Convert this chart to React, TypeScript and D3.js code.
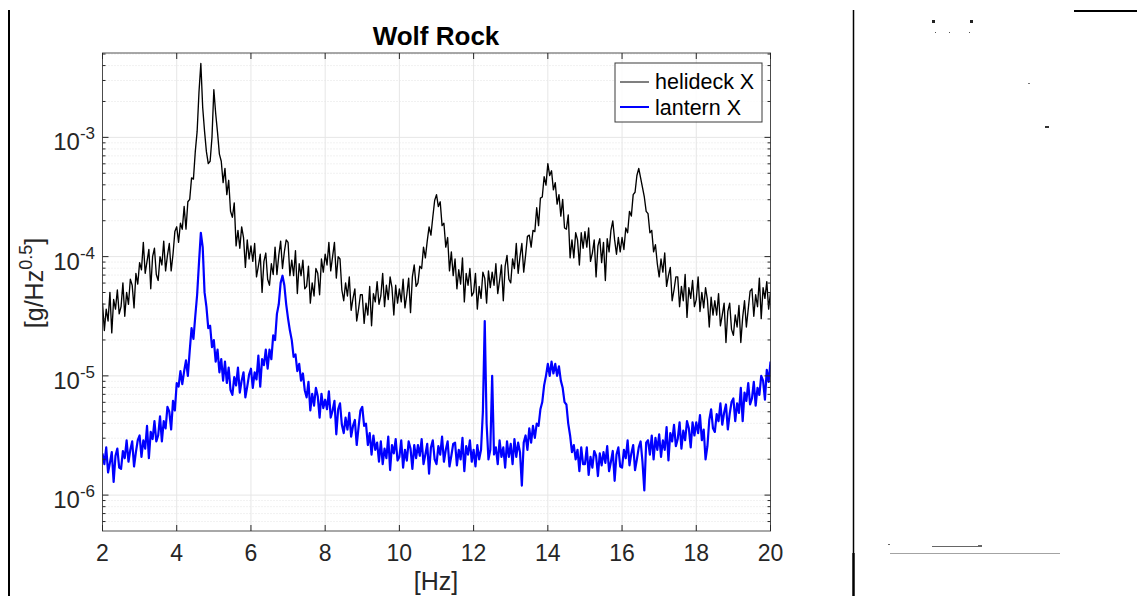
import React from "react";
import * as d3 from "d3";

// ---- data: log10 of amplitude [g/Hz^0.5], sampled every 0.05 Hz from 2 to 20 Hz ----
const FREQ_START = 2;
const FREQ_STEP = 0.05;

const helideckLog: number[] = [
  -4.39, -4.62, -4.44, -4.54, -4.30, -4.64, -4.36, -4.44, -4.28, -4.48, // 2.0
  -4.42, -4.22, -4.50, -4.30, -4.40, -4.19, -4.24, -4.43, -4.14, -4.23, // 2.5
  -4.05, -4.11, -3.88, -4.14, -4.04, -3.94, -4.27, -4.00, -3.93, -4.15, // 3.0
  -4.20, -4.00, -4.07, -3.87, -4.12, -3.99, -3.89, -4.12, -3.98, -3.79, // 3.5
  -3.75, -3.88, -3.72, -3.77, -3.58, -3.77, -3.54, -3.52, -3.34, -3.35, // 4.0
  -3.12, -2.95, -2.62, -2.38, -2.75, -2.95, -3.12, -3.22, -3.20, -3.00, // 4.5
  -2.60, -2.80, -2.96, -3.14, -3.20, -3.38, -3.26, -3.48, -3.36, -3.62, // 5.0
  -3.67, -3.55, -3.91, -3.78, -3.93, -3.75, -3.84, -4.09, -3.86, -4.02, // 5.5
  -3.91, -4.04, -3.89, -4.17, -4.08, -3.98, -4.30, -4.04, -3.97, -4.19, // 6.0
  -4.24, -4.06, -4.15, -3.92, -4.15, -3.99, -3.87, -4.10, -3.96, -3.86, // 6.5
  -3.88, -4.16, -4.03, -4.16, -3.95, -4.31, -4.06, -4.16, -4.03, -4.27, // 7.0
  -4.25, -4.08, -4.39, -4.22, -4.33, -4.10, -4.14, -4.32, -4.02, -4.13, // 7.5
  -3.98, -4.07, -3.88, -4.12, -4.00, -3.88, -4.18, -4.00, -4.02, -4.28, // 8.0
  -4.37, -4.22, -4.33, -4.17, -4.45, -4.35, -4.27, -4.54, -4.44, -4.32, // 8.5
  -4.32, -4.56, -4.39, -4.49, -4.25, -4.58, -4.31, -4.38, -4.21, -4.40, // 9.0
  -4.33, -4.14, -4.42, -4.24, -4.36, -4.17, -4.26, -4.49, -4.24, -4.39, // 9.5
  -4.27, -4.38, -4.19, -4.43, -4.32, -4.18, -4.47, -4.17, -4.07, -4.25, // 10.0
  -4.22, -4.08, -4.10, -3.92, -4.01, -3.87, -3.75, -3.82, -3.67, -3.53, // 10.5
  -3.48, -3.58, -3.54, -3.74, -3.72, -3.92, -3.84, -4.12, -3.96, -4.16, // 11.0
  -4.02, -4.27, -4.11, -4.23, -4.01, -4.38, -4.14, -4.24, -4.10, -4.33, // 11.5
  -4.30, -4.14, -4.44, -4.25, -4.35, -4.13, -4.18, -4.39, -4.12, -4.26, // 12.0
  -4.13, -4.24, -4.06, -4.31, -4.20, -4.07, -4.37, -4.08, -3.99, -4.19, // 12.5
  -4.22, -4.02, -4.10, -3.89, -4.14, -4.00, -3.89, -4.13, -3.99, -3.83, // 13.0
  -3.82, -3.92, -3.78, -3.79, -3.59, -3.74, -3.51, -3.50, -3.33, -3.40, // 13.5
  -3.22, -3.32, -3.28, -3.44, -3.38, -3.56, -3.48, -3.66, -3.52, -3.76, // 14.0
  -3.77, -3.65, -4.01, -3.86, -4.01, -3.80, -3.86, -4.07, -3.80, -3.93, // 14.5
  -3.79, -3.92, -3.76, -4.04, -3.97, -3.86, -4.17, -3.91, -3.85, -4.05, // 15.0
  -3.88, -4.20, -3.85, -3.96, -3.78, -3.70, -3.86, -3.98, -3.84, -3.96, // 15.5
  -3.84, -3.94, -3.76, -3.80, -3.62, -3.66, -3.48, -3.46, -3.32, -3.26, // 16.0
  -3.34, -3.42, -3.50, -3.62, -3.64, -3.80, -3.78, -3.96, -3.90, -4.06, // 16.5
  -4.17, -4.02, -4.13, -3.97, -4.25, -4.16, -4.09, -4.37, -4.28, -4.17, // 17.0
  -4.17, -4.42, -4.25, -4.37, -4.15, -4.51, -4.26, -4.35, -4.20, -4.42, // 17.5
  -4.36, -4.17, -4.46, -4.30, -4.43, -4.26, -4.36, -4.59, -4.34, -4.49, // 18.0
  -4.37, -4.49, -4.31, -4.58, -4.49, -4.39, -4.72, -4.46, -4.39, -4.61, // 18.5
  -4.66, -4.49, -4.59, -4.41, -4.72, -4.51, -4.37, -4.59, -4.44, -4.29, // 19.0
  -4.27, -4.50, -4.32, -4.42, -4.18, -4.52, -4.26, -4.35, -4.21, -4.44, // 19.5
  -4.30, // 20.0
];

const lanternLog: number[] = [
  -5.65, -5.74, -5.60, -5.81, -5.73, -5.64, -5.89, -5.67, -5.61, -5.77, // 2.0
  -5.78, -5.63, -5.69, -5.54, -5.72, -5.62, -5.55, -5.76, -5.64, -5.54, // 2.5
  -5.50, -5.68, -5.54, -5.61, -5.42, -5.69, -5.47, -5.53, -5.38, -5.55, // 3.0
  -5.50, -5.34, -5.55, -5.38, -5.44, -5.26, -5.30, -5.45, -5.21, -5.29, // 3.5
  -5.06, -5.09, -4.96, -5.07, -4.96, -4.87, -5.00, -4.79, -4.60, -4.69, // 4.0
  -4.50, -4.32, -4.05, -3.80, -3.92, -4.30, -4.42, -4.60, -4.58, -4.76, // 4.5
  -4.70, -4.88, -4.78, -4.97, -4.86, -5.04, -4.88, -5.06, -4.93, -5.12, // 5.0
  -5.16, -5.01, -5.08, -4.93, -5.14, -5.04, -4.97, -5.18, -5.09, -4.99, // 5.5
  -4.94, -5.10, -4.97, -5.03, -4.83, -5.09, -4.86, -4.91, -4.78, -4.94, // 6.0
  -4.78, -4.86, -4.66, -4.70, -4.48, -4.40, -4.22, -4.16, -4.24, -4.40, // 6.5
  -4.52, -4.62, -4.70, -4.84, -4.82, -4.96, -4.90, -5.04, -4.98, -5.12, // 7.0
  -5.18, -5.05, -5.29, -5.15, -5.25, -5.10, -5.17, -5.35, -5.15, -5.27, // 7.5
  -5.20, -5.28, -5.13, -5.35, -5.29, -5.21, -5.49, -5.28, -5.23, -5.41, // 8.0
  -5.48, -5.35, -5.45, -5.31, -5.51, -5.42, -5.37, -5.58, -5.43, -5.29, // 8.5
  -5.26, -5.42, -5.40, -5.58, -5.48, -5.66, -5.50, -5.62, -5.56, -5.72, // 9.0
  -5.55, -5.74, -5.61, -5.69, -5.51, -5.79, -5.58, -5.65, -5.53, -5.71, // 9.5
  -5.68, -5.54, -5.77, -5.62, -5.71, -5.55, -5.61, -5.78, -5.58, -5.69, // 10.0
  -5.58, -5.67, -5.53, -5.74, -5.66, -5.57, -5.82, -5.60, -5.54, -5.70, // 10.5
  -5.74, -5.59, -5.66, -5.51, -5.72, -5.62, -5.55, -5.76, -5.67, -5.57, // 11.0
  -5.56, -5.75, -5.62, -5.70, -5.52, -5.80, -5.59, -5.66, -5.54, -5.72, // 11.5
  -5.62, -5.76, -5.58, -5.70, -5.62, -5.30, -4.54, -5.40, -5.70, -5.62, // 12.0
  -5.00, -5.66, -5.60, -5.74, -5.54, -5.68, -5.60, -5.77, -5.55, -5.68, // 12.5
  -5.57, -5.74, -5.53, -5.68, -5.56, -5.64, -5.92, -5.56, -5.50, -5.62, // 13.0
  -5.44, -5.56, -5.42, -5.52, -5.40, -5.42, -5.28, -5.22, -5.08, -5.00, // 13.5
  -4.90, -5.00, -4.88, -4.98, -4.90, -5.00, -4.92, -5.04, -5.10, -5.22, // 14.0
  -5.24, -5.40, -5.50, -5.64, -5.58, -5.70, -5.62, -5.80, -5.60, -5.74, // 14.5
  -5.74, -5.60, -5.83, -5.68, -5.77, -5.63, -5.67, -5.84, -5.65, -5.75, // 15.0
  -5.64, -5.73, -5.59, -5.80, -5.72, -5.63, -5.88, -5.66, -5.60, -5.76, // 15.5
  -5.77, -5.62, -5.69, -5.54, -5.75, -5.65, -5.58, -5.79, -5.70, -5.60, // 16.0
  -5.55, -5.72, -5.96, -5.56, -5.54, -5.66, -5.50, -5.70, -5.52, -5.62, // 16.5
  -5.49, -5.68, -5.54, -5.62, -5.43, -5.71, -5.48, -5.55, -5.41, -5.59, // 17.0
  -5.53, -5.39, -5.61, -5.46, -5.54, -5.38, -5.44, -5.60, -5.39, -5.50, // 17.5
  -5.39, -5.48, -5.33, -5.54, -5.45, -5.70, -5.59, -5.37, -5.28, -5.44, // 18.0
  -5.47, -5.32, -5.38, -5.23, -5.41, -5.31, -5.24, -5.45, -5.32, -5.22, // 18.5
  -5.19, -5.38, -5.23, -5.31, -5.10, -5.38, -5.14, -5.21, -5.06, -5.24, // 19.0
  -5.19, -5.05, -5.25, -5.10, -5.16, -5.00, -5.04, -5.20, -4.95, -5.05, // 19.5
  -4.88, // 20.0
];

const xTicks: number[] = [2, 4, 6, 8, 10, 12, 14, 16, 18, 20];
const yDecadeExps: number[] = [-6, -5, -4, -3];
const seriesNames: string[] = ["helideck X", "lantern X"];
const seriesColors: string[] = ["#000000", "#0000ff"];
const titleText = "Wolf Rock";

export default function App() {
  const W = 1137;
  const H = 596;
  const left = 102.5, right = 770.5, top = 53, bottom = 531;

  const x = d3.scaleLinear().domain([2, 20]).range([left, right]);
  const y = d3.scaleLog().domain([5e-7, 5.1e-3]).range([bottom, top]);

  const mkLine = (vals: number[]) =>
    d3
      .line<number>()
      .x((_, i) => x(FREQ_START + i * FREQ_STEP))
      .y((v) => y(Math.pow(10, v)))(vals) as string;

  // minor ticks for log axis
  const minor: number[] = [];
  [-7, -6, -5, -4, -3].forEach((e) => {
    for (let k = 2; k <= 9; k++) {
      const v = k * Math.pow(10, e);
      if (v > 5e-7 && v < 5.1e-3) minor.push(v);
    }
  });

  const axisColor = "#262626";
  const font = "'Liberation Sans', Arial, Helvetica, sans-serif";

  return (
    <svg
      width={W}
      height={H}
      style={{ position: "absolute", left: 0, top: 0, background: "#fff" }}
      fontFamily={font}
    >
      <rect x={0} y={0} width={W} height={H} fill="#fff" />
      {/* page decorations */}
      <line x1={9} y1={10} x2={9} y2={596} stroke="#000" strokeWidth={2} />
      <line x1={853.5} y1={10} x2={853.5} y2={553} stroke="#000" strokeWidth={1.5} />
      <line x1={853.5} y1={553} x2={853.5} y2={596} stroke="#000" strokeWidth={2.5} />
      <line x1={1074} y1={11} x2={1137} y2={11} stroke="#000" strokeWidth={2} />
      <rect x={932} y={20} width={3} height={3} fill="#222" />
      <rect x={970} y={20} width={3} height={3} fill="#222" />
      <rect x={935} y={32} width={1} height={1} fill="#555" />
      <rect x={949} y={32} width={1} height={1} fill="#555" />
      <rect x={969} y={32} width={1} height={1} fill="#555" />
      <rect x={1028} y={83} width={2} height={1} fill="#777" />
      <rect x={1045} y={126} width={4} height={2} fill="#333" />
      <g fill="#666">
        <rect x={888} y={544} width={2} height={1} />
        <rect x={932} y={546} width={50} height={1} />
        <rect x={978} y={545} width={4} height={2} />
        <rect x={890} y={553} width={170} height={1} opacity={0.6} />
      </g>

      {/* grid */}
      <g>
        {minor.map((v, i) => (
          <line
            key={"mg" + i}
            x1={left}
            x2={right}
            y1={y(v)}
            y2={y(v)}
            stroke="#e3e3e3"
            strokeWidth={1}
            strokeDasharray="1,2"
          />
        ))}
        {xTicks.map((t) => (
          <line key={"gx" + t} x1={x(t)} x2={x(t)} y1={top} y2={bottom} stroke="#e6e6e6" strokeWidth={1} />
        ))}
        {yDecadeExps.map((e) => (
          <line
            key={"gy" + e}
            x1={left}
            x2={right}
            y1={y(Math.pow(10, e))}
            y2={y(Math.pow(10, e))}
            stroke="#e6e6e6"
            strokeWidth={1}
          />
        ))}
      </g>

      {/* data */}
      <defs>
        <clipPath id="plotclip">
          <rect x={left} y={top} width={right - left} height={bottom - top} />
        </clipPath>
      </defs>
      <g clipPath="url(#plotclip)" fill="none" strokeLinejoin="round">
        <path d={mkLine(helideckLog)} stroke={seriesColors[0]} strokeWidth={1.35} />
        <path d={mkLine(lanternLog)} stroke={seriesColors[1]} strokeWidth={2.2} />
      </g>

      {/* axes box and ticks */}
      <rect x={left} y={top} width={right - left} height={bottom - top} fill="none" stroke={axisColor} strokeWidth={1} opacity={0.8} />
      {xTicks.map((t) => (
        <g key={"xt" + t}>
          <line x1={x(t)} x2={x(t)} y1={bottom} y2={bottom - 6} stroke={axisColor} />
          <line x1={x(t)} x2={x(t)} y1={top} y2={top + 6} stroke={axisColor} />
          <text x={x(t)} y={bottom + 30} textAnchor="middle" fontSize={23} fill={axisColor}>
            {t}
          </text>
        </g>
      ))}
      {yDecadeExps.map((e) => {
        const yy = y(Math.pow(10, e));
        return (
          <g key={"yt" + e}>
            <line x1={left} x2={left + 6} y1={yy} y2={yy} stroke={axisColor} />
            <line x1={right} x2={right - 6} y1={yy} y2={yy} stroke={axisColor} />
            <text x={95} y={yy + 13} textAnchor="end" fontSize={24} fill={axisColor}>
              <tspan>10</tspan>
              <tspan dy={-11} fontSize={17}>
                {String(e)}
              </tspan>
            </text>
          </g>
        );
      })}
      {minor.map((v, i) => (
        <g key={"mt" + i}>
          <line x1={left} x2={left + 3} y1={y(v)} y2={y(v)} stroke={axisColor} />
          <line x1={right} x2={right - 3} y1={y(v)} y2={y(v)} stroke={axisColor} />
        </g>
      ))}

      {/* labels */}
      <text x={436} y={45} textAnchor="middle" fontSize={26} fontWeight="bold" fill="#000">
        {titleText}
      </text>
      <text x={436} y={590} textAnchor="middle" fontSize={25} fill={axisColor}>
        [Hz]
      </text>
      <text transform="translate(43,283) rotate(-90)" textAnchor="middle" fontSize={25} fill={axisColor}>
        <tspan>[g/Hz</tspan>
        <tspan dy={-11} fontSize={18}>
          0.5
        </tspan>
        <tspan dy={11}>]</tspan>
      </text>

      {/* legend */}
      <g>
        <rect x={615} y={63} width={147} height={59} fill="#fff" stroke={axisColor} strokeWidth={1} opacity={0.9} />
        {seriesNames.map((n, i) => (
          <g key={n}>
            <line
              x1={620}
              x2={649}
              y1={82 + i * 25}
              y2={82 + i * 25}
              stroke={seriesColors[i]}
              strokeWidth={i === 0 ? 1 : 2}
            />
            <text x={655} y={89 + i * 26} fontSize={21.5} fill="#000">
              {n}
            </text>
          </g>
        ))}
      </g>
    </svg>
  );
}
